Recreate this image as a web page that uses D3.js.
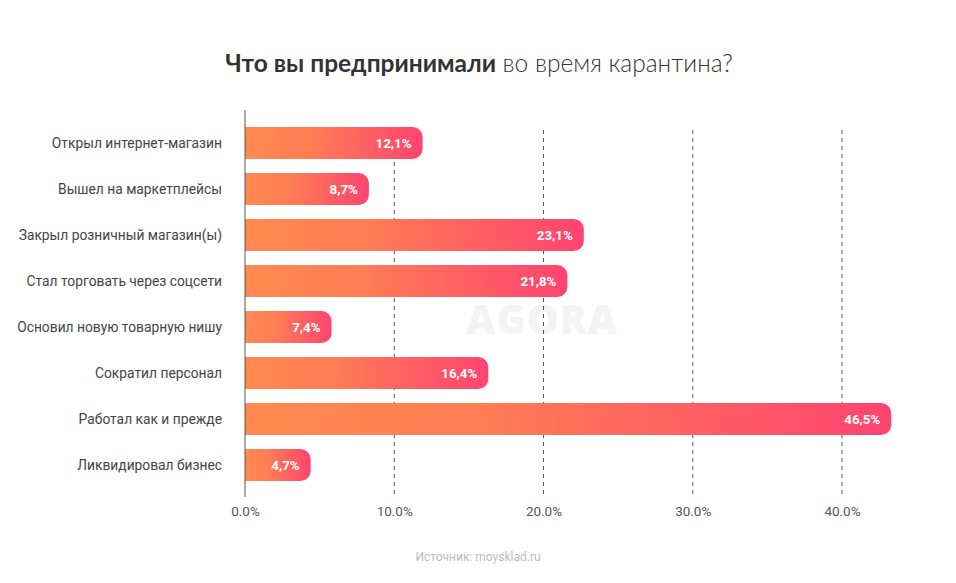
<!DOCTYPE html>
<html>
<head>
<meta charset="utf-8">
<script src="https://cdn.jsdelivr.net/npm/d3@7"></script>
<style>
  html, body { margin: 0; padding: 0; background: #fff; }
  svg { display: block; }
</style>
</head>
<body>
<svg id="chart" width="956" height="583"></svg>
<script>
const categories = [
  "Открыл интернет-магазин",
  "Вышел на маркетплейсы",
  "Закрыл розничный магазин(ы)",
  "Стал торговать через соцсети",
  "Основил новую товарную нишу",
  "Сократил персонал",
  "Работал как и прежде",
  "Ликвидировал бизнес"
];
// shares printed on the bars
const shares = [12.1, 8.7, 23.1, 21.8, 7.4, 16.4, 46.5, 4.7];
// drawn bar lengths (percent on the x axis)
const barLengths = [11.9, 8.3, 22.7, 21.6, 5.8, 16.3, 43.3, 4.4];
const xTicks = [0, 10, 20, 30, 40];

const svg = d3.select("#chart");
const x0 = 245;

const x = d3.scaleLinear().domain([0, 40]).range([x0, 842]);
const y = d3.scaleBand().domain(categories).range([120, 488])
  .paddingInner(14 / 46).paddingOuter(7 / 46);

// gradient
const defs = svg.append("defs");
const grad = defs.append("linearGradient").attr("id", "barGrad")
  .attr("x1", "0%").attr("x2", "100%").attr("y1", "0%").attr("y2", "0%");
grad.append("stop").attr("offset", "0%").attr("stop-color", "#FF8A50");
grad.append("stop").attr("offset", "35%").attr("stop-color", "#FF7E54");
grad.append("stop").attr("offset", "100%").attr("stop-color", "#FF4470");

// title
const title = svg.append("text")
  .attr("x", 479).attr("y", 72)
  .attr("text-anchor", "middle")
  .attr("font-family", "Lato, 'Open Sans', sans-serif")
  .attr("font-size", 24.5)
  .attr("fill", "#333");
title.append("tspan").attr("font-weight", 700).text("Что вы предпринимали");
title.append("tspan").attr("font-weight", 300).text(" во время карантина?");

// watermark
svg.append("text")
  .attr("x", 542).attr("y", 334)
  .attr("text-anchor", "middle")
  .attr("font-family", "'Open Sans', Lato, sans-serif")
  .attr("font-weight", 800)
  .attr("font-size", 40)
  .attr("letter-spacing", 1)
  .attr("fill", "#f3f3f3")
  .text("AGORA");

// grid lines
svg.append("g").selectAll("line")
  .data(xTicks.filter(d => d > 0))
  .join("line")
  .attr("x1", d => x(d)).attr("x2", d => x(d))
  .attr("y1", 130).attr("y2", 495)
  .attr("stroke", "#555")
  .attr("stroke-width", 1)
  .attr("stroke-dasharray", "4,4");

// x axis tick labels
const xAxis = d3.axisBottom(x).tickValues(xTicks)
  .tickFormat(d => d.toFixed(1) + "%").tickSize(0).tickPadding(0);
const gx = svg.append("g").attr("transform", "translate(0,506)").call(xAxis);
gx.select(".domain").remove();
gx.selectAll("text")
  .attr("font-family", "Roboto, sans-serif")
  .attr("font-size", 13.5)
  .attr("fill", "#555");

// bars
const rr = 10;
function barPath(d, i) {
  const xs = x0, xe = x(barLengths[i]);
  const yt = y(categories[i]), h = y.bandwidth();
  return `M${xs},${yt} H${xe - rr} A${rr},${rr} 0 0 1 ${xe},${yt + rr} V${yt + h - rr} A${rr},${rr} 0 0 1 ${xe - rr},${yt + h} H${xs} Z`;
}
svg.append("g").selectAll("path")
  .data(categories)
  .join("path")
  .attr("d", (d, i) => barPath(d, i))
  .attr("fill", "url(#barGrad)");

// bar labels
svg.append("g").selectAll("text")
  .data(categories)
  .join("text")
  .attr("x", (d, i) => x(barLengths[i]) - 11)
  .attr("y", d => y(d) + y.bandwidth() / 2)
  .attr("dy", "0.35em")
  .attr("text-anchor", "end")
  .attr("font-family", "Roboto, sans-serif")
  .attr("font-weight", 700)
  .attr("font-size", 13.3)
  .attr("fill", "#fff")
  .text((d, i) => shares[i].toFixed(1).replace(".", ",") + "%");

// category labels
svg.append("g").selectAll("text")
  .data(categories)
  .join("text")
  .attr("x", 222)
  .attr("y", d => y(d) + y.bandwidth() / 2)
  .attr("dy", "0.35em")
  .attr("text-anchor", "end")
  .attr("font-family", "Roboto, sans-serif")
  .attr("font-size", 13.8)
  .attr("fill", "#444")
  .text(d => d);

// vertical axis line
svg.append("line")
  .attr("x1", x0).attr("x2", x0)
  .attr("y1", 110).attr("y2", 497)
  .attr("stroke", "#555").attr("stroke-width", 1);

// source
svg.append("text")
  .attr("x", 478).attr("y", 561)
  .attr("text-anchor", "middle")
  .attr("font-family", "Roboto, sans-serif")
  .attr("font-size", 12)
  .attr("fill", "#bbb")
  .text("Источник: moysklad.ru");
</script>
</body>
</html>
